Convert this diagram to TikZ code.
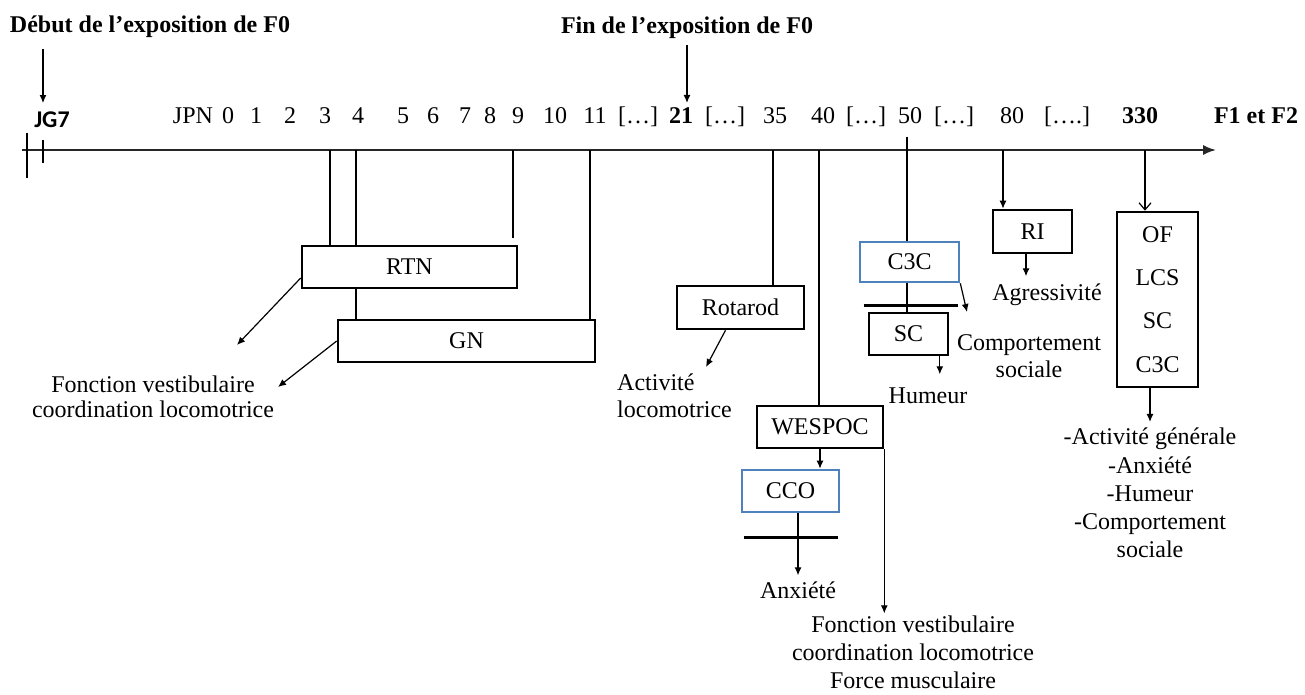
\documentclass[tikz,border=0pt]{standalone}
\usepackage{fontspec}
\setmainfont{Liberation Serif}
\newfontfamily\jgfont{Carlito}
\usetikzlibrary{arrows.meta}
\definecolor{boxblue}{RGB}{79,129,189}
\newcommand{\diagfont}{\fontsize{24}{27.5}\selectfont}
\tikzstyle{Title}=[font=\diagfont\bfseries, inner sep=0pt, anchor=base]
\tikzstyle{Tick}=[font=\diagfont, inner sep=0pt, anchor=base]
\tikzstyle{Test}=[draw=black, line width=2.6pt, fill=white, minimum height=42pt, inner sep=0pt, font=\diagfont]
\tikzstyle{TestBlue}=[Test, draw=boxblue]
\tikzstyle{Outcome}=[font=\diagfont, align=center, inner sep=2pt]
\tikzstyle{arrow}=[line width=1.2pt, draw=black]
\tikzstyle{axis}=[line width=1.8pt, draw=black!85, -{Latex[length=13pt, width=10pt]}]
\tikzstyle{bar}=[line width=3pt, draw=black]
\pgfdeclarelayer{nodelayer}
\pgfdeclarelayer{edgelayer}
\pgfsetlayers{main, nodelayer, edgelayer}

\begin{document}
\begin{tikzpicture}[x=1pt, y=-1pt, >={Latex[length=8pt, width=7pt]}]
	\useasboundingbox (0,0) rectangle (1305,695);
	\begin{pgfonlayer}{nodelayer}
		% titres et echelle de temps
		\node [style=Title] (debut) at (150,33) {Début de l’exposition de F0};
		\node [style=Title] (fin) at (687,34) {Fin de l’exposition de F0};
		\node [style=Title, font=\fontsize{24}{27.5}\jgfont\bfseries] (jg7) at (52,128) {JG7};
		\foreach \x/\lbl [count=\i] in {193/JPN, 228/0, 256/1, 290/2, 325/3, 358/4, 403/5, 433/6, 465/7, 490/8, 518/9, 555/10, 595/11, 638/{[…]}, 681/{\textbf{21}}, 725/{[…]}, 775/35, 823/40, 866/{[…]}, 910/50, 954/{[…]}, 1012/80, 1067/{[….]}, 1140/{\textbf{330}}}
			\node [style=Tick] (t\i) at (\x,124) {\lbl};
		\node [style=Title] (f1f2) at (1256,124) {F1 et F2};
		% tests
		\node [style=Test, minimum width=215pt] (rtn) at (409.5,267) {RTN};
		\node [style=Test, minimum width=257pt] (gn) at (466.5,341) {GN};
		\node [style=Test, minimum width=127pt, minimum height=43pt] (rotarod) at (740.5,307.5) {Rotarod};
		\node [style=Test, minimum width=126pt] (wespoc) at (820,427) {WESPOC};
		\node [style=TestBlue, minimum width=97pt] (cco) at (790.5,491) {CCO};
		\node [style=TestBlue, minimum width=99pt, minimum height=40pt] (c3c) at (909.5,262) {C3C};
		\node [style=Test, minimum width=79pt] (sc) at (908.5,334) {SC};
		\node [style=Test, minimum width=79pt, minimum height=43pt] (ri) at (1032.5,231.5) {RI};
		\node [style=Test, minimum width=81pt, minimum height=175pt, align=center, font=\fontsize{24}{43.3}\selectfont] (batterie) at (1157.5,299.5) {OF\\LCS\\SC\\C3C};
		% fonctions evaluees
		\node [style=Outcome, font=\fontsize{24}{25}\selectfont] (vestib) at (153,397) {Fonction vestibulaire\\coordination locomotrice};
		\node [style=Outcome, align=left, anchor=west] (activite) at (615,396) {Activité\\locomotrice};
		\node [style=Outcome] (anxiete) at (798,590) {Anxiété};
		\node [style=Outcome, font=\fontsize{24}{28}\selectfont] (force) at (913,652) {Fonction vestibulaire\\coordination locomotrice\\Force musculaire};
		\node [style=Outcome] (humeur) at (928,396) {Humeur};
		\node [style=Outcome] (social) at (1029,356) {Comportement\\sociale};
		\node [style=Outcome] (agress) at (1047,295) {Agressivité};
		\node [style=Outcome, font=\fontsize{24}{28.2}\selectfont] (general) at (1150,493) {-Activité générale\\-Anxiété\\-Humeur\\-Comportement\\sociale};
	\end{pgfonlayer}
	\begin{pgfonlayer}{edgelayer}
		\coordinate (axstart) at (22,150);
		\coordinate (axend) at (1216,150);
		\coordinate (tick1) at (27,133);
		\coordinate (tick2) at (43,140);
		\coordinate (a3) at (330,150);
		\coordinate (a4) at (356,150);
		\coordinate (a9) at (513,150);
		\coordinate (e9) at (513,238);
		\coordinate (a11) at (590,150);
		\coordinate (a35) at (773,150);
		\coordinate (a40) at (819,150);
		\coordinate (a50) at (907,137);
		\coordinate (a80) at (1003,150);
		\coordinate (a330) at (1145,150);
		\coordinate (ertn) at (237,345);
		\coordinate (egn) at (278,387);
		\coordinate (erot) at (706,367);
		\coordinate (ec3c) at (967,312);
		\draw [style=axis] (axstart) to (axend);
		\draw [style=arrow] (tick1) to ++(0,45);
		\draw [style=arrow] (tick2) to ++(0,23);
		\draw [->, style=arrow, shorten <=11pt, shorten >=9pt] (debut.south -| tick2) to (jg7.north -| tick2);
		\draw [->, style=arrow, shorten <=6pt, shorten >=5pt] (fin.south) to (fin.south |- t15.north);
		\draw [style=arrow] (a3) to (rtn.north -| a3);
		\draw [style=arrow] (a4) to (rtn.north -| a4);
		\draw [style=arrow] (rtn.south -| a4) to (gn.north -| a4);
		\draw [style=arrow] (a9) to (e9);
		\draw [style=arrow] (a11) to (gn.north -| a11);
		\draw [style=arrow] (a35) to (rotarod.north -| a35);
		\draw [style=arrow] (a40) to (wespoc.north -| a40);
		\draw [style=arrow] (a50) to (c3c.north -| a50);
		\draw [style=arrow] (c3c.south -| a50) to (sc.north -| a50);
		\draw [->, style=arrow] (a80) to (ri.north -| a80);
		\draw [-{Straight Barb[length=7pt, width=12pt]}, style=arrow] (a330) to (batterie.north -| a330);
		\draw [->, style=arrow] ([yshift=-11pt]rtn.west) to (ertn);
		\draw [->, style=arrow] (gn.west) to (egn);
		\draw [->, style=arrow] ([xshift=-15pt]rotarod.south) to (erot);
		\draw [->, style=arrow] (wespoc.south) to (wespoc.south |- cco.north);
		\draw [->, style=arrow] (wespoc.south east) to (wespoc.south east |- force.north);
		\draw [->, style=arrow, shorten >=4pt] (cco.south -| anxiete.north) to (anxiete.north);
		\draw [style=bar] ([xshift=3pt, yshift=-24pt]cco.south west) to ([xshift=-2pt, yshift=-24pt]cco.south east);
		\draw [->, style=arrow] (c3c.south east) to (ec3c);
		\draw [style=bar] ([xshift=-4pt, yshift=6pt]sc.north west) to ([xshift=9pt, yshift=6pt]sc.north east);
		\draw [->, style=arrow] ([xshift=-9.5pt]sc.south east) to ++(0,18);
		\draw [->, style=arrow] ([xshift=-6.5pt]ri.south) to ++(0,22);
		\draw [->, style=arrow, shorten >=4pt] (batterie.south -| general.north) to (general.north);
	\end{pgfonlayer}
\end{tikzpicture}
\end{document}
